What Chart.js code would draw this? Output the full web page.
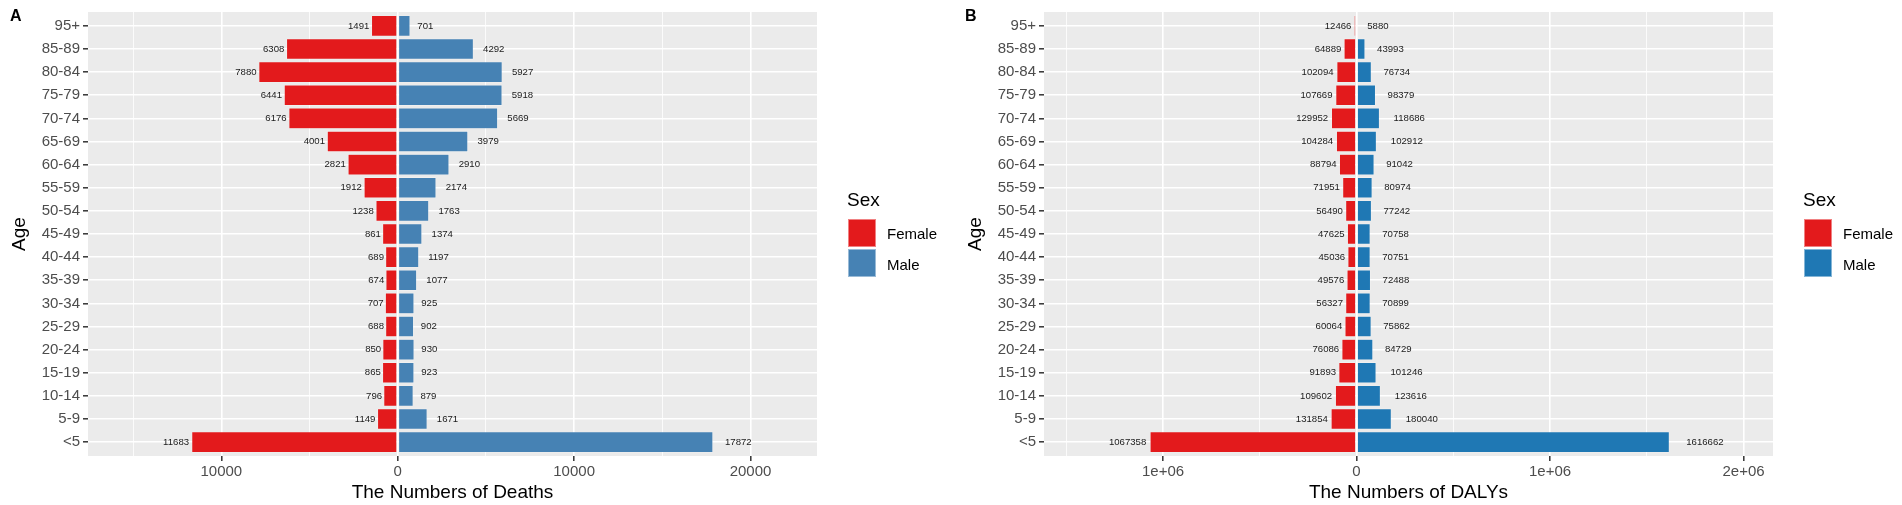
<!DOCTYPE html>
<html>
<head>
<meta charset="utf-8">
<script src="https://cdn.jsdelivr.net/npm/chart.js@4.4.1/dist/chart.umd.min.js"></script>
<style>
html,body{margin:0;padding:0;background:#fff;}
#wrap{position:relative;width:1902px;height:505px;overflow:hidden;font-family:"Liberation Sans",Arial,sans-serif;}
canvas{position:absolute;top:0;}
.panel{position:absolute;font-weight:bold;font-size:16px;line-height:16px;color:#000;}
.legtitle{position:absolute;font-size:19px;line-height:19px;color:#000;white-space:nowrap;}
.sw{position:absolute;width:28px;height:28px;box-sizing:border-box;border:1px solid rgba(255,255,255,0.45);}
.ll{position:absolute;font-size:15px;line-height:15px;color:#000;white-space:nowrap;}
</style>
</head>
<body>
<div id="wrap">
  <canvas id="cA" width="940" height="505" style="left:0px"></canvas>
  <canvas id="cB" width="962" height="505" style="left:940px"></canvas>
  <div class="panel" style="left:10px;top:8px">A</div>
  <div class="panel" style="left:965px;top:8px">B</div>

  <div class="legtitle" style="left:847px;top:190px">Sex</div>
  <div class="sw" style="left:848px;top:219px;background:#E31A1C"></div>
  <div class="sw" style="left:848px;top:249px;background:#4682B4"></div>
  <div class="ll" style="left:887px;top:226px">Female</div>
  <div class="ll" style="left:887px;top:257px">Male</div>

  <div class="legtitle" style="left:1803px;top:190px">Sex</div>
  <div class="sw" style="left:1804px;top:219px;background:#E31A1C"></div>
  <div class="sw" style="left:1804px;top:249px;background:#1F78B4"></div>
  <div class="ll" style="left:1843px;top:226px">Female</div>
  <div class="ll" style="left:1843px;top:257px">Male</div>
</div>
<script>
// ---- data ----
const ageGroups = ["95+","85-89","80-84","75-79","70-74","65-69","60-64","55-59","50-54","45-49","40-44","35-39","30-34","25-29","20-24","15-19","10-14","5-9","<5"];

const deathsFemale = [1491,6308,7880,6441,6176,4001,2821,1912,1238,861,689,674,707,688,850,865,796,1149,11683];
const deathsMale   = [701,4292,5927,5918,5669,3979,2910,2174,1763,1374,1197,1077,925,902,930,923,879,1671,17872];

const dalysFemale = [12466,64889,102094,107669,129952,104284,88794,71951,56490,47625,45036,49576,56327,60064,76086,91893,109602,131854,1067358];
const dalysMale   = [5880,43993,76734,98379,118686,102912,91042,80974,77242,70758,70751,72488,70899,75862,84729,101246,123616,180040,1616662];

const deathTickValues = [-15000,-10000,-5000,0,5000,10000,15000,20000];
const deathTickLabels = ["","10000","","0","","10000","","20000"];
const dalyTickValues  = [-1500000,-1000000,-500000,0,500000,1000000,1500000,2000000];
const dalyTickLabels  = ["","1e+06","","0","","1e+06","","2e+06"];

const seriesNames = ["Female","Male"];
// --------------

const FONT = '"Liberation Sans", Arial, sans-serif';

const panelBg = {
  id:'panelBg',
  beforeDraw(chart){
    const {ctx, chartArea:a} = chart;
    ctx.save();
    ctx.fillStyle = '#EBEBEB';
    ctx.fillRect(a.left, a.top, a.right - a.left, a.bottom - a.top);
    ctx.restore();
  }
};

const valueLabels = {
  id:'valueLabels',
  afterDatasetsDraw(chart){
    const ctx = chart.ctx;
    ctx.save();
    ctx.font = '9.6px ' + FONT;
    ctx.fillStyle = '#1A1A1A';
    ctx.textBaseline = 'middle';
    chart.data.datasets.forEach((ds, di) => {
      const meta = chart.getDatasetMeta(di);
      meta.data.forEach((el, i) => {
        const txt = String(ds.rawValues[i]);
        const w = ctx.measureText(txt).width;
        if (di === 0) {
          ctx.textAlign = 'right';
          ctx.fillText(txt, Math.min(el.x, el.base) - 0.1 * w, el.y);
        } else {
          ctx.textAlign = 'left';
          ctx.fillText(txt, Math.max(el.x, el.base) + 0.45 * w, el.y);
        }
      });
    });
    ctx.restore();
  }
};

function build(canvasId, female, male, maleColor, xMin, xMax, tickValues, tickLabels, xTitle, rightPad, yWidth, yTitlePad) {
  const mk = (vals, sign, color, name) => ({
    label: name,
    data: vals.map((v, i) => ({x: sign * v, y: i})),
    rawValues: vals,
    backgroundColor: color,
    borderColor: 'rgba(255,255,255,0.5)',
    borderWidth: 0.6,
    borderSkipped: false,
    grouped: false,
    barPercentage: 0.9,
    categoryPercentage: 1
  });
  return new Chart(document.getElementById(canvasId), {
    type: 'bar',
    data: { datasets: [ mk(female, -1, '#E31A1C', seriesNames[0]), mk(male, 1, maleColor, seriesNames[1]) ] },
    options: {
      indexAxis: 'y',
      responsive: false,
      animation: false,
      devicePixelRatio: 1,
      layout: { padding: { left: 0, right: rightPad, top: 12, bottom: 0 } },
      plugins: { legend: { display: false }, tooltip: { enabled: false } },
      scales: {
        x: {
          type: 'linear',
          min: xMin, max: xMax,
          offset: false,
          afterBuildTicks: s => { s.ticks = tickValues.map(v => ({value: v})); },
          afterFit: s => { s.height = 49; },
          border: { display: false },
          grid: {
            offset: false,
            color: '#FFFFFF',
            lineWidth: c => (tickLabels[c.index] === '' ? 0.8 : 1.6),
            tickColor: c => (tickLabels[c.index] === '' ? 'rgba(0,0,0,0)' : '#333333'),
            tickWidth: 1.5,
            tickLength: 5
          },
          ticks: {
            autoSkip: false, maxRotation: 0, padding: 2,
            color: '#4D4D4D',
            font: { family: FONT, size: 15 },
            callback: (v, i) => tickLabels[i]
          },
          title: {
            display: true, text: xTitle, color: '#000',
            font: { family: FONT, size: 19, lineHeight: 1 },
            padding: { top: 0, bottom: 3 }
          }
        },
        y: {
          type: 'linear',
          reverse: true,
          offset: false,
          min: -0.6, max: ageGroups.length - 1 + 0.6,
          afterBuildTicks: s => { s.ticks = ageGroups.map((g, i) => ({value: i})); },
          afterFit: s => { s.width = yWidth; },
          border: { display: false },
          grid: {
            offset: false,
            color: '#FFFFFF', lineWidth: 1.6,
            tickColor: '#333333', tickWidth: 1.5, tickLength: 5
          },
          ticks: {
            autoSkip: false, padding: 3,
            color: '#4D4D4D',
            font: { family: FONT, size: 15 },
            callback: (v, i) => ageGroups[i]
          },
          title: {
            display: true, text: 'Age', color: '#000',
            font: { family: FONT, size: 19, lineHeight: 1 },
            padding: { top: yTitlePad, bottom: 0 }
          }
        }
      }
    },
    plugins: [panelBg, valueLabels]
  });
}

build('cA', deathsFemale, deathsMale, '#4682B4', -17560, 23770, deathTickValues, deathTickLabels, 'The Numbers of Deaths', 123, 88, 10.5);
build('cB', dalysFemale, dalysMale, '#1F78B4', -1615000, 2152000, dalyTickValues, dalyTickLabels, 'The Numbers of DALYs', 129, 104, 26);
</script>
</body>
</html>
